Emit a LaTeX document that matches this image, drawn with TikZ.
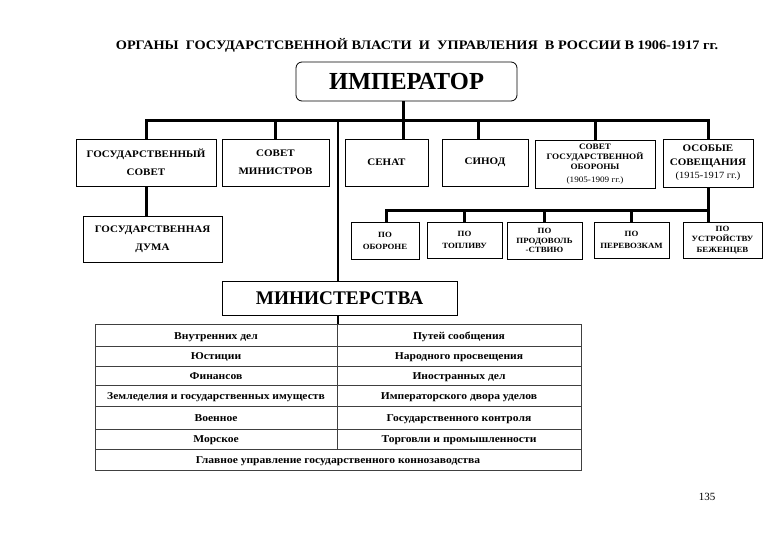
\documentclass[tikz,border=0pt]{standalone}
\usepackage{fontspec}
\setmainfont{Liberation Serif}
\newfontfamily\wide{Liberation Serif}[FakeStretch=1.1]
\begin{document}
\begin{tikzpicture}[x=1pt,y=-1pt,
  box/.style={draw, line width=0.8pt, inner sep=0pt, align=center},
  bx/.style={box, font=\wide\bfseries\fontsize{10}{18}\selectfont},
  sub/.style={box, font=\wide\bfseries\fontsize{8}{12}\selectfont},
  conn/.style={line width=3pt},
  trunk/.style={line width=2pt},
  cell/.style={font=\wide\bfseries\fontsize{10.5}{12}\selectfont, inner sep=0pt, anchor=base},
  grid/.style={draw=black!75, line width=0.7pt}]
\useasboundingbox (0,0) rectangle (780,540);
\fill[white] (0,0) rectangle (780,540);

% title
\node[font=\wide\bfseries\fontsize{13}{15}\selectfont, inner sep=0pt] (title) at (417,45)
  {ОРГАНЫ\ \ ГОСУДАРСТСВЕННОЙ ВЛАСТИ\ \ И\ \ УПРАВЛЕНИЯ\ \ В РОССИИ В 1906-1917 гг.};

% emperor
\node[box, rounded corners=6pt, minimum width=221pt, minimum height=39pt,
      font=\bfseries\fontsize{24.5}{26}\selectfont] (emp) at (406.5,81.5) {ИМПЕРАТОР};

% first row
\node[bx, minimum width=140pt, minimum height=47pt] (gs) at (146,162.5) {ГОСУДАРСТВЕННЫЙ\\СОВЕТ};
\node[bx, minimum width=107pt, minimum height=47pt] (sm) at (275.5,162.5) {СОВЕТ\\МИНИСТРОВ};
\node[bx, minimum width=83pt, minimum height=47pt] (sen) at (386.5,162.5) {СЕНАТ};
\node[bx, minimum width=86pt, minimum height=47pt] (sin) at (485,162.5) {СИНОД};
\node[box, minimum width=120pt, minimum height=48pt, font=\wide\bfseries\fontsize{8.3}{10.3}\selectfont] (sgo) at (595,164)
  {СОВЕТ\\ГОСУДАРСТВЕННОЙ\\ОБОРОНЫ\\[2.5pt]{\mdseries (1905-1909 гг.)}};
\node[box, minimum width=90pt, minimum height=48pt, font=\wide\bfseries\fontsize{10}{13.5}\selectfont] (os) at (708,163)
  {ОСОБЫЕ\\СОВЕЩАНИЯ\\{\mdseries\fontsize{9.5}{13.5}\selectfont (1915-1917 гг.)}};

% second row
\node[bx, minimum width=139pt, minimum height=46pt] (duma) at (152.5,239) {ГОСУДАРСТВЕННАЯ\\ДУМА};
\node[sub, minimum width=68pt, minimum height=37pt] (ob) at (385,240.5) {ПО\\ОБОРОНЕ};
\node[sub, minimum width=75pt, minimum height=36pt] (top) at (464.5,240) {ПО\\ТОПЛИВУ};
\node[sub, minimum width=75pt, minimum height=37pt, font=\wide\bfseries\fontsize{8}{9.8}\selectfont] (prod) at (544.5,240.5) {ПО\\ПРОДОВОЛЬ\\-СТВИЮ};
\node[sub, minimum width=75pt, minimum height=36pt] (per) at (631.5,240) {ПО\\ПЕРЕВОЗКАМ};
\node[sub, minimum width=79pt, minimum height=36pt, font=\wide\bfseries\fontsize{8}{10.5}\selectfont] (bezh) at (722.5,240) {ПО\\УСТРОЙСТВУ\\БЕЖЕНЦЕВ};

% ministries
\node[box, minimum width=235pt, minimum height=34pt,
      font=\bfseries\fontsize{19.3}{20}\selectfont] (min) at (339.5,298) {МИНИСТЕРСТВА};

% table
\node[grid, minimum width=486pt, minimum height=146pt, inner sep=0pt] (tbl) at (338,397) {};
\foreach \yy in {346,366,385.7,406.7,429.3,449.3}
  \draw[grid] (95,\yy) -- (581,\yy);
\draw[grid] (337,324) -- (337,449.3);

\node[cell] (l1) at (216,339.2) {Внутренних дел};
\node[cell] (r1) at (459,339.2) {Путей сообщения};
\node[cell] (l2) at (216,359.7) {Юстиции};
\node[cell] (r2) at (459,359.7) {Народного просвещения};
\node[cell] (l3) at (216,379.6) {Финансов};
\node[cell] (r3) at (459,379.6) {Иностранных дел};
\node[cell] (l4) at (216,399.9) {Земледелия и государственных имуществ};
\node[cell] (r4) at (459,399.9) {Императорского двора уделов};
\node[cell] (l5) at (216,421.6) {Военное};
\node[cell] (r5) at (459,421.6) {Государственного контроля};
\node[cell] (l6) at (216,442.9) {Морское};
\node[cell] (r6) at (459,442.9) {Торговли и промышленности};
\node[cell] (l7) at (338,463.3) {Главное управление государственного коннозаводства};

% page number
\node[font=\fontsize{11}{12}\selectfont, inner sep=0pt] (pg) at (707,497) {135};

% connectors
\coordinate (E) at (403,121);
\coordinate (L) at (338,121);
\coordinate (S) at (708,211);
\draw[conn] (gs.north) |- (os.north |- E) -- (os.north);
\draw[conn] (emp.south -| E) -- (E |- sen.north);
\draw[conn] (sm.north) -- (sm.north |- E);
\draw[conn] ([xshift=-7pt]sin.north) -- ([xshift=-7pt]sin.north |- E);
\draw[conn] (sgo.north) -- (sgo.north |- E);
\draw[trunk] (L) -- (L |- min.north);
\draw[trunk] (min.south -| L) -- (tbl.north -| L);
\draw[conn] (gs.south) -- (gs.south |- duma.north);
\draw[conn] (os.south) -- (os.south |- bezh.north);
\draw[conn] ([xshift=1.5pt]ob.north) |- (S);
\draw[conn] (top.north) -- (top.north |- S);
\draw[conn] (prod.north) -- (prod.north |- S);
\draw[conn] (per.north) -- (per.north |- S);
\end{tikzpicture}
\end{document}
